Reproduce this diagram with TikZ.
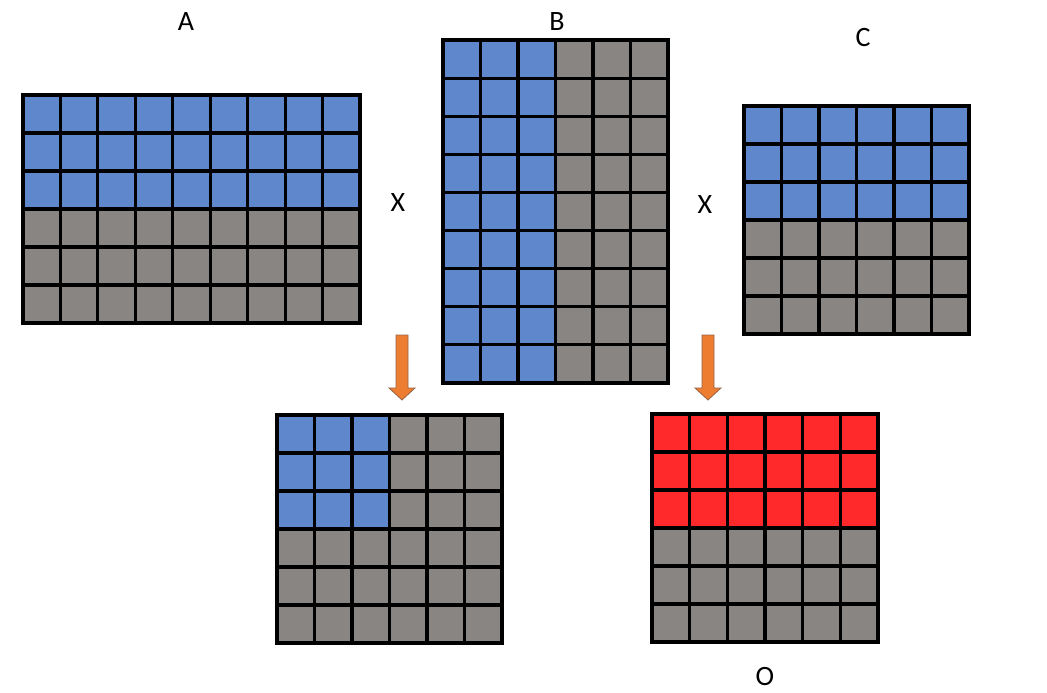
\documentclass[tikz,border=0pt]{standalone}
\usepackage{fontspec}
\setmainfont{Carlito}
\definecolor{cblue}{RGB}{95,136,204}
\definecolor{cgray}{RGB}{137,133,131}
\definecolor{cred}{RGB}{255,40,42}
\definecolor{corange}{RGB}{237,125,49}
\definecolor{cdorange}{RGB}{150,100,70}
\newcommand\mygrid[6]{%
  \foreach \i in {0,...,#5}{\draw[gl] ({#1+\i*(#3-#1)/#5},#2) -- ({#1+\i*(#3-#1)/#5},#4);}
  \foreach \j in {0,...,#6}{\draw[gl] (#1,{#2+\j*(#4-#2)/#6}) -- (#3,{#2+\j*(#4-#2)/#6});}
}
\begin{document}
\begin{tikzpicture}[x=1pt,y=-1pt,
  gl/.style={draw=black,line width=3.2pt,line cap=rect},
  lbl/.style={font=\fontsize{28}{33}\selectfont,inner sep=0pt},
  blockarrow/.style={fill=corange,draw=cdorange,line width=0.8pt,line join=miter}]
\useasboundingbox (0,0) rectangle (1047,693);
% Grid A
\fill[cgray] (23,95) rectangle (360,323);
\fill[cblue] (23,95) rectangle (360,209);
\mygrid{23}{95}{360}{323}{9}{6}
% Grid B
\fill[cgray] (443,40) rectangle (668,383);
\fill[cblue] (443,40) rectangle (555.5,383);
\mygrid{443}{40}{668}{383}{6}{9}
% Grid C
\fill[cgray] (744,106) rectangle (969,334);
\fill[cblue] (744,106) rectangle (969,220);
\mygrid{744}{106}{969}{334}{6}{6}
% Product AB
\fill[cgray] (277,415) rectangle (502,643);
\fill[cblue] (277,415) rectangle (389.5,529);
\mygrid{277}{415}{502}{643}{6}{6}
% Output O
\fill[cgray] (652,414) rectangle (878,642);
\fill[cred] (652,414) rectangle (878,528);
\mygrid{652}{414}{878}{642}{6}{6}
% Arrows
\draw[blockarrow] (396,335) -- (408,335) -- (408,388) -- (415,388) -- (402,400) -- (389,388) -- (396,388) -- cycle;
\draw[blockarrow] (702,335) -- (714,335) -- (714,388) -- (721,388) -- (708,400) -- (695,388) -- (702,388) -- cycle;
% Labels
\node[lbl] (la) at (186,22) {A};
\node[lbl] (lb) at (557,22) {B};
\node[lbl] (lc) at (863,38) {C};
\node[lbl] (lx1) at (398,203) {X};
\node[lbl] (lx2) at (705,205) {X};
\node[lbl] (lo) at (765,677) {O};
\end{tikzpicture}
\end{document}
